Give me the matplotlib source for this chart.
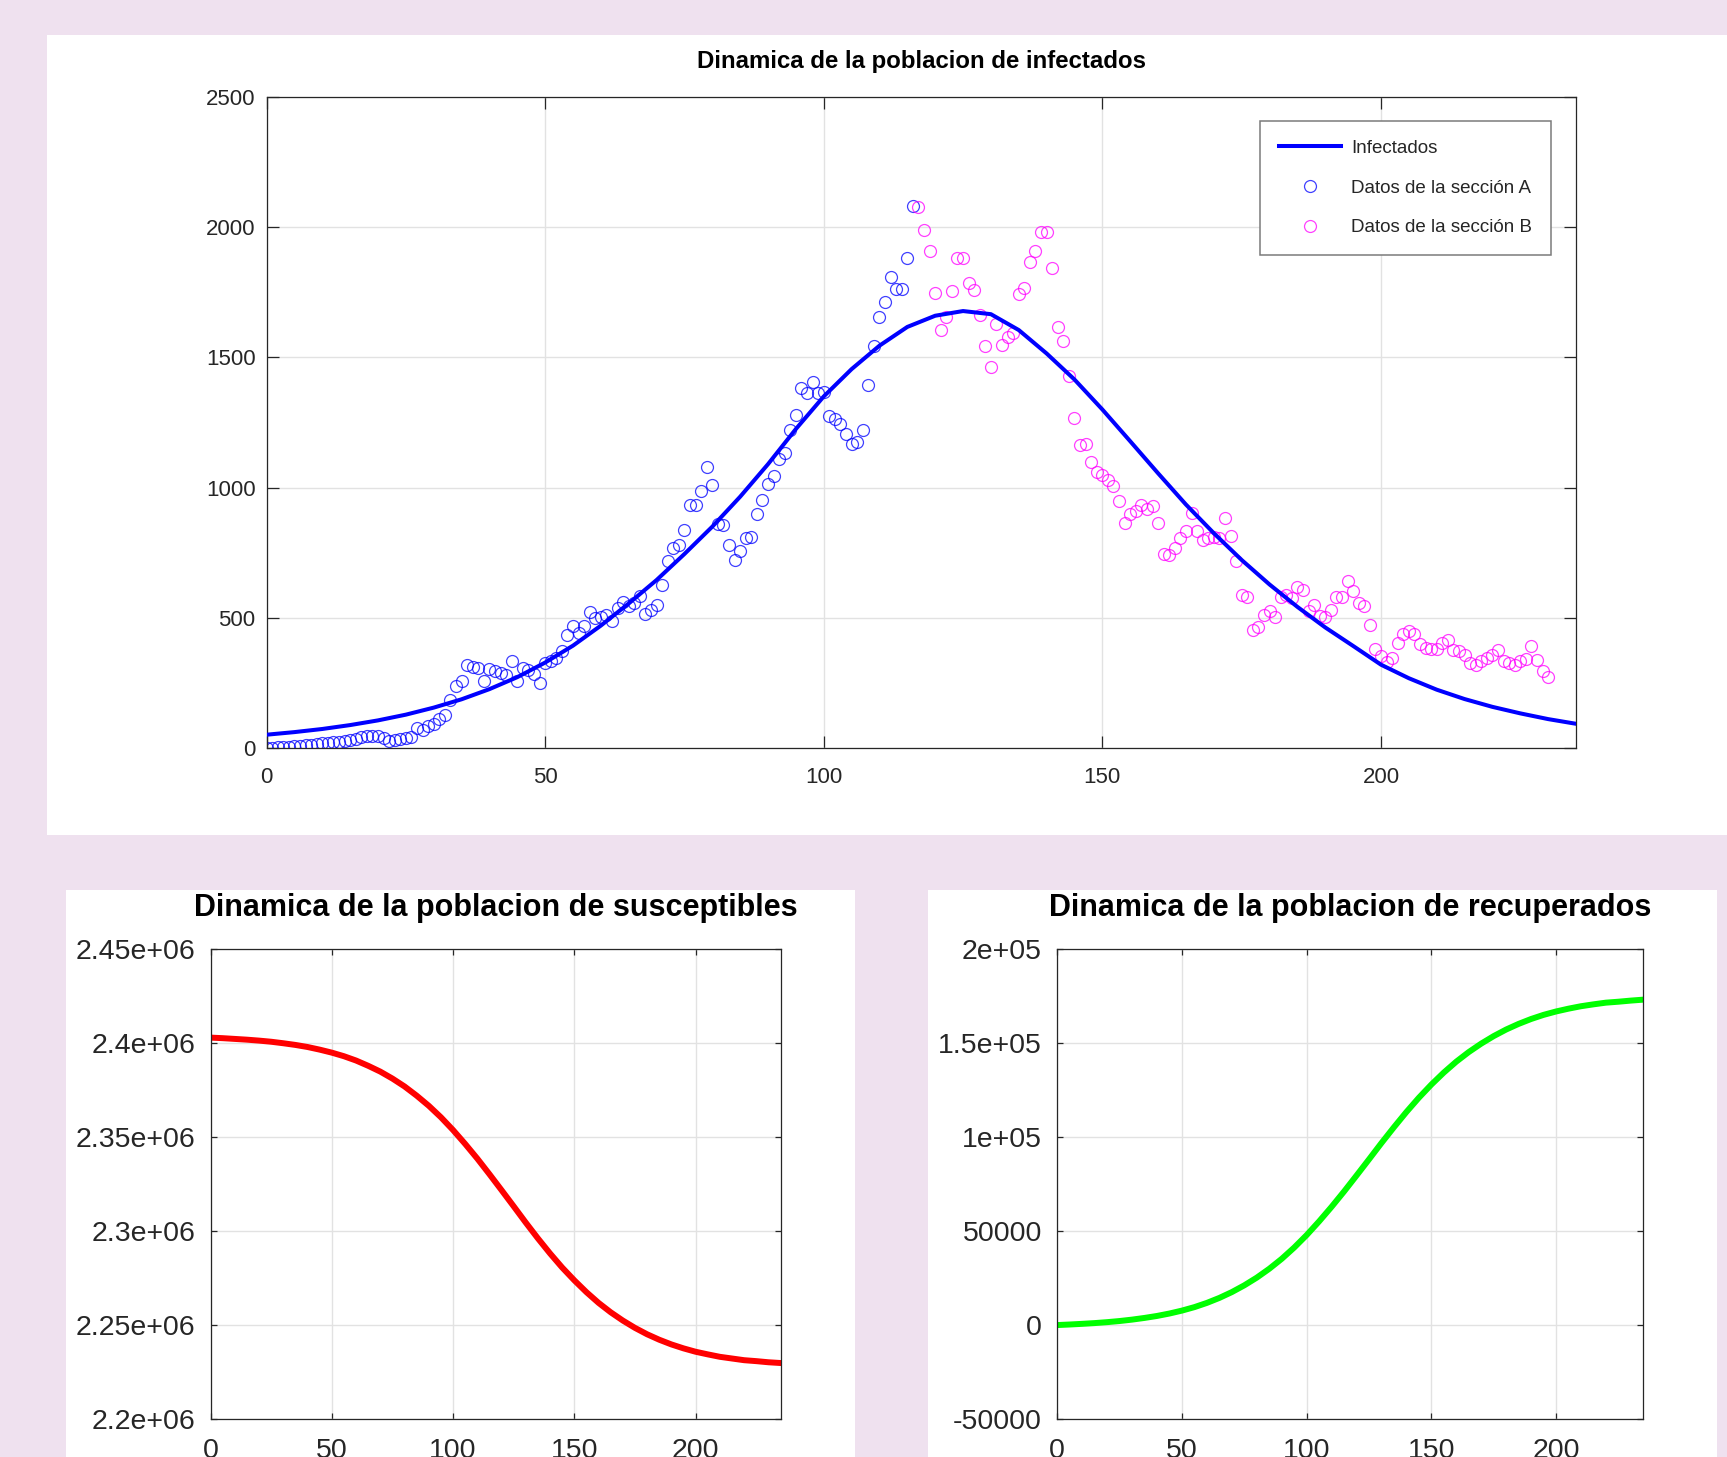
# -*- coding: utf-8 -*-

import numpy as np
import matplotlib
matplotlib.use('Agg')
import matplotlib.pyplot as plt
from matplotlib.patches import Rectangle

plt.rcParams['font.family'] = ['Liberation Sans', 'DejaVu Sans']

# casos diarios observados
dias_a = np.arange(0, 117)
datos_a = [
    0, 1, 2, 3, 4, 6, 8, 10, 13, 15,
    18, 20, 22, 24, 27, 31, 36, 41, 46, 48,
    45, 38, 27, 32, 36, 40, 42, 77, 70, 85,
    92, 110, 128, 183, 237, 259, 318, 310, 307, 256,
    304, 294, 288, 282, 333, 256, 307, 301, 284, 250,
    327, 336, 346, 374, 435, 467, 442, 467, 522, 499,
    502, 512, 486, 538, 561, 544, 557, 583, 516, 531,
    551, 627, 720, 768, 778, 836, 932, 932, 986, 1078,
    1009, 860, 855, 778, 723, 755, 806, 809, 899, 954,
    1012, 1043, 1111, 1133, 1223, 1280, 1383, 1362, 1404, 1362,
    1366, 1274, 1265, 1244, 1206, 1167, 1175, 1222, 1394, 1543,
    1657, 1711, 1808, 1763, 1763, 1880, 2080,
]
dias_b = np.arange(117, 231)
datos_b = [
    2076, 1991, 1907, 1746, 1607, 1654, 1754, 1880, 1880, 1784,
    1760, 1664, 1542, 1462, 1628, 1546, 1577, 1593, 1743, 1766,
    1866, 1907, 1981, 1981, 1843, 1618, 1562, 1427, 1267, 1165,
    1169, 1097, 1060, 1047, 1031, 1005, 947, 864, 899, 909,
    935, 916, 928, 864, 745, 740, 768, 806, 835, 902,
    835, 800, 806, 809, 806, 883, 813, 717, 588, 580,
    455, 465, 512, 528, 502, 579, 589, 576, 617, 606,
    525, 548, 506, 502, 531, 579, 579, 643, 604, 557,
    544, 474, 382, 352, 330, 346, 403, 438, 451, 438,
    399, 384, 382, 382, 403, 416, 378, 374, 359, 326,
    318, 336, 346, 359, 378, 336, 326, 320, 336, 343,
    391, 339, 297, 271,
]

# solucion del modelo cada 5 dias
t = np.arange(0, 240, 5)
infectados = [
    51, 61, 73, 88, 106, 128, 155, 187, 226, 272,
    328, 393, 470, 555, 645, 745, 850, 965, 1090, 1225,
    1350, 1455, 1545, 1617, 1660, 1678, 1666, 1605, 1515, 1415,
    1300, 1178, 1055, 935, 825, 722, 628, 542, 463, 392,
    320, 268, 224, 188, 158, 133, 111, 93,
]
susceptibles = [
    2.4030e6, 2.4027e6, 2.4023e6, 2.4019e6, 2.4014e6, 2.4008e6, 2.4000e6, 2.3991e6,
    2.3980e6, 2.3966e6, 2.3950e6, 2.3931e6, 2.3908e6, 2.3880e6, 2.3849e6, 2.3812e6,
    2.3770e6, 2.3721e6, 2.3667e6, 2.3606e6, 2.3538e6, 2.3464e6, 2.3386e6, 2.3303e6,
    2.3218e6, 2.3132e6, 2.3045e6, 2.2961e6, 2.2881e6, 2.2806e6, 2.2738e6, 2.2675e6,
    2.2618e6, 2.2568e6, 2.2524e6, 2.2485e6, 2.2451e6, 2.2422e6, 2.2397e6, 2.2376e6,
    2.2358e6, 2.2344e6, 2.2331e6, 2.2322e6, 2.2313e6, 2.2308e6, 2.2302e6, 2.2298e6,
]
recuperados = [
    0, 300, 650, 1050, 1550, 2150, 2900, 3800, 4850, 6150,
    7700, 9550, 11800, 14450, 17550, 21150, 25250, 29950, 35250, 41250,
    47900, 55200, 62950, 71100, 79600, 88200, 96900, 105300, 113400, 121000,
    128000, 134400, 140200, 145300, 149800, 153800, 157300, 160300, 162900, 165100,
    166900, 168400, 169700, 170700, 171600, 172100, 172700, 173200,
]

xticks = [0, 50, 100, 150, 200]
yticks_i = [0, 500, 1000, 1500, 2000, 2500]
yticks_s = [2.2e6, 2.25e6, 2.3e6, 2.35e6, 2.4e6, 2.45e6]
ylabels_s = ['2.2e+06', '2.25e+06', '2.3e+06', '2.35e+06', '2.4e+06', '2.45e+06']
yticks_r = [-50000, 0, 50000, 100000, 150000, 200000]
ylabels_r = ['-50000', '0', '50000', '1e+05', '1.5e+05', '2e+05']

W, H = 1727.0, 1457.0
ink = '#262626'


def panel(fig, x0, y0, x1, y1):
    """White backdrop given in pixels from the top-left corner."""
    r = Rectangle((x0 / W, 1 - y1 / H), (x1 - x0) / W, (y1 - y0) / H,
                  transform=fig.transFigure, facecolor='white',
                  edgecolor='none', zorder=0)
    fig.add_artist(r)


def make_axes(fig, x0, y0, x1, y1):
    return fig.add_axes([x0 / W, 1 - y1 / H, (x1 - x0) / W, (y1 - y0) / H])


def style(ax, size, ticklen, padx, pady):
    for s in ax.spines.values():
        s.set_color(ink)
        s.set_linewidth(0.9)
    ax.grid(True, color='#e2e2e2', linewidth=1.0)
    ax.set_axisbelow(True)
    ax.tick_params(direction='in', top=True, right=True, length=ticklen,
                   width=0.9, color=ink, labelcolor=ink, labelsize=size)
    ax.tick_params(axis='x', pad=padx)
    ax.tick_params(axis='y', pad=pady)
    ax.set_xlim(0, 235)
    ax.set_xticks(xticks)


fig = plt.figure(figsize=(W / 100, H / 100), dpi=100, facecolor='#efe1ef')

panel(fig, 47, 35, 1727, 835)
panel(fig, 66, 890, 855, 1457)
panel(fig, 928, 890, 1717, 1457)

# infectados
ax = make_axes(fig, 266.5, 97, 1576, 748)
ax.set_facecolor('white')
ax.plot(t, infectados, color='#0000ff', linewidth=2.9, label='Infectados', zorder=3)
ax.plot(dias_a, datos_a, 'o', markerfacecolor='none', markeredgecolor='#0000ff',
        markersize=8.6, markeredgewidth=0.9, alpha=0.75, label='Datos de la sección A')
ax.plot(dias_b, datos_b, 'o', markerfacecolor='none', markeredgecolor='#ff00ff',
        markersize=8.6, markeredgewidth=0.9, alpha=0.75, label='Datos de la sección B')
ax.set_ylim(0, 2500)
ax.set_yticks(yticks_i)
style(ax, 16, 8.5, 13.5, 8)
ax.set_title('Dinamica de la poblacion de infectados', fontsize=17.3,
             fontweight='bold', color='black', pad=21)
leg = ax.legend(loc='upper right', bbox_to_anchor=(0.981, 0.963), fontsize=13.5,
                frameon=True, fancybox=False, framealpha=1, edgecolor='#7a7a7a',
                handlelength=3.3, handletextpad=0.55, labelspacing=1.2,
                borderpad=1.0, borderaxespad=0)
leg.get_frame().set_linewidth(1.1)
for txt in leg.get_texts():
    txt.set_color(ink)

# susceptibles
ax2 = make_axes(fig, 210.5, 949.3, 780.5, 1419)
ax2.plot(t, susceptibles, color='#ff0000', linewidth=4.3)
ax2.set_ylim(2.2e6, 2.45e6)
ax2.set_yticks(yticks_s)
ax2.set_yticklabels(ylabels_s)
style(ax2, 20.5, 4.5, 14, 11)
ax2.set_title('Dinamica de la poblacion de susceptibles', fontsize=22,
              fontweight='bold', color='black', pad=24)

# recuperados
ax3 = make_axes(fig, 1057.3, 949.3, 1643.3, 1419)
ax3.plot(t, recuperados, color='#00ff00', linewidth=4.3)
ax3.set_ylim(-50000, 200000)
ax3.set_yticks(yticks_r)
ax3.set_yticklabels(ylabels_r)
style(ax3, 20.5, 4.5, 14, 11)
ax3.set_title('Dinamica de la poblacion de recuperados', fontsize=22,
              fontweight='bold', color='black', pad=24)

fig.savefig('out.png', dpi=100, facecolor=fig.get_facecolor())
